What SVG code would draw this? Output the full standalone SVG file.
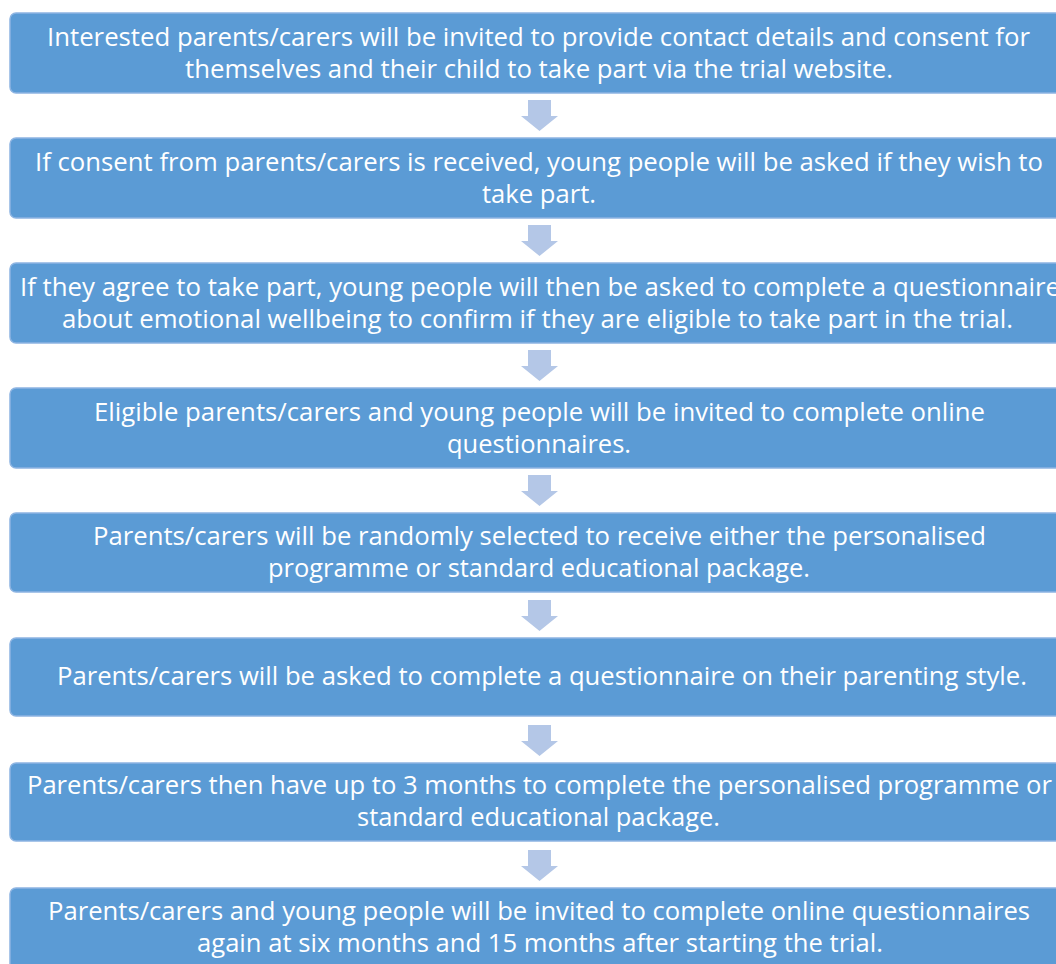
<svg xmlns="http://www.w3.org/2000/svg" width="1056" height="964" viewBox="0 0 1056 964">
<style>
.box{fill:#5B9BD5;stroke:#8DB4E2;stroke-width:1.5}
.t{font-family:"Open Sans","Noto Sans",sans-serif;font-size:25px;fill:#FFFFFF;text-anchor:middle}
.arr{fill:#B4C7E7}
</style>
<rect width="1056" height="964" fill="#FFFFFF"/>
<g id="connectors">
<polygon class="arr" points="528,100 551,100 551,116 558,116 539.5,131 521,116 528,116"/>
<polygon class="arr" points="528,225 551,225 551,241 558,241 539.5,256 521,241 528,241"/>
<polygon class="arr" points="528,350 551,350 551,366 558,366 539.5,381 521,366 528,366"/>
<polygon class="arr" points="528,475 551,475 551,491 558,491 539.5,506 521,491 528,491"/>
<polygon class="arr" points="528,600 551,600 551,616 558,616 539.5,631 521,616 528,616"/>
<polygon class="arr" points="528,725 551,725 551,741 558,741 539.5,756 521,741 528,741"/>
<polygon class="arr" points="528,850 551,850 551,866 558,866 539.5,881 521,866 528,866"/>
</g>
<g id="n1">
<rect class="box" x="10" y="13" width="1060" height="80" rx="6"/>
<text class="t" x="538.5" y="46" textLength="983" lengthAdjust="spacingAndGlyphs">Interested parents/carers will be invited to provide contact details and consent for</text>
<text class="t" x="539" y="78" textLength="708" lengthAdjust="spacingAndGlyphs">themselves and their child to take part via the trial website.</text>
</g>
<g id="n2">
<rect class="box" x="10" y="138" width="1060" height="80" rx="6"/>
<text class="t" x="539" y="171" textLength="1008" lengthAdjust="spacingAndGlyphs">If consent from parents/carers is received, young people will be asked if they wish to</text>
<text class="t" x="539" y="203" textLength="114" lengthAdjust="spacingAndGlyphs">take part.</text>
</g>
<g id="n3">
<rect class="box" x="10" y="263" width="1060" height="80" rx="6"/>
<text class="t" x="540" y="296" textLength="1040" lengthAdjust="spacingAndGlyphs">If they agree to take part, young people will then be asked to complete a questionnaire</text>
<text class="t" x="537.5" y="328" textLength="951" lengthAdjust="spacingAndGlyphs">about emotional wellbeing to confirm if they are eligible to take part in the trial.</text>
</g>
<g id="n4">
<rect class="box" x="10" y="388" width="1060" height="80" rx="6"/>
<text class="t" x="539.5" y="421" textLength="891" lengthAdjust="spacingAndGlyphs">Eligible parents/carers and young people will be invited to complete online</text>
<text class="t" x="539" y="453" textLength="184" lengthAdjust="spacingAndGlyphs">questionnaires.</text>
</g>
<g id="n5">
<rect class="box" x="10" y="513" width="1060" height="79" rx="6"/>
<text class="t" x="539.5" y="545" textLength="893" lengthAdjust="spacingAndGlyphs">Parents/carers will be randomly selected to receive either the personalised</text>
<text class="t" x="539" y="577" textLength="542" lengthAdjust="spacingAndGlyphs">programme or standard educational package.</text>
</g>
<g id="n6">
<rect class="box" x="10" y="638" width="1060" height="78" rx="6"/>
<text class="t" x="542" y="685" textLength="970" lengthAdjust="spacingAndGlyphs">Parents/carers will be asked to complete a questionnaire on their parenting style.</text>
</g>
<g id="n7">
<rect class="box" x="10" y="763" width="1060" height="78" rx="6"/>
<text class="t" x="539.5" y="794" textLength="1025" lengthAdjust="spacingAndGlyphs">Parents/carers then have up to 3 months to complete the personalised programme or</text>
<text class="t" x="538.5" y="826" textLength="363" lengthAdjust="spacingAndGlyphs">standard educational package.</text>
</g>
<g id="n8">
<rect class="box" x="10" y="888" width="1060" height="90" rx="6"/>
<text class="t" x="539" y="920" textLength="982" lengthAdjust="spacingAndGlyphs">Parents/carers and young people will be invited to complete online questionnaires</text>
<text class="t" x="540" y="952" textLength="686" lengthAdjust="spacingAndGlyphs">again at six months and 15 months after starting the trial.</text>
</g>
</svg>
